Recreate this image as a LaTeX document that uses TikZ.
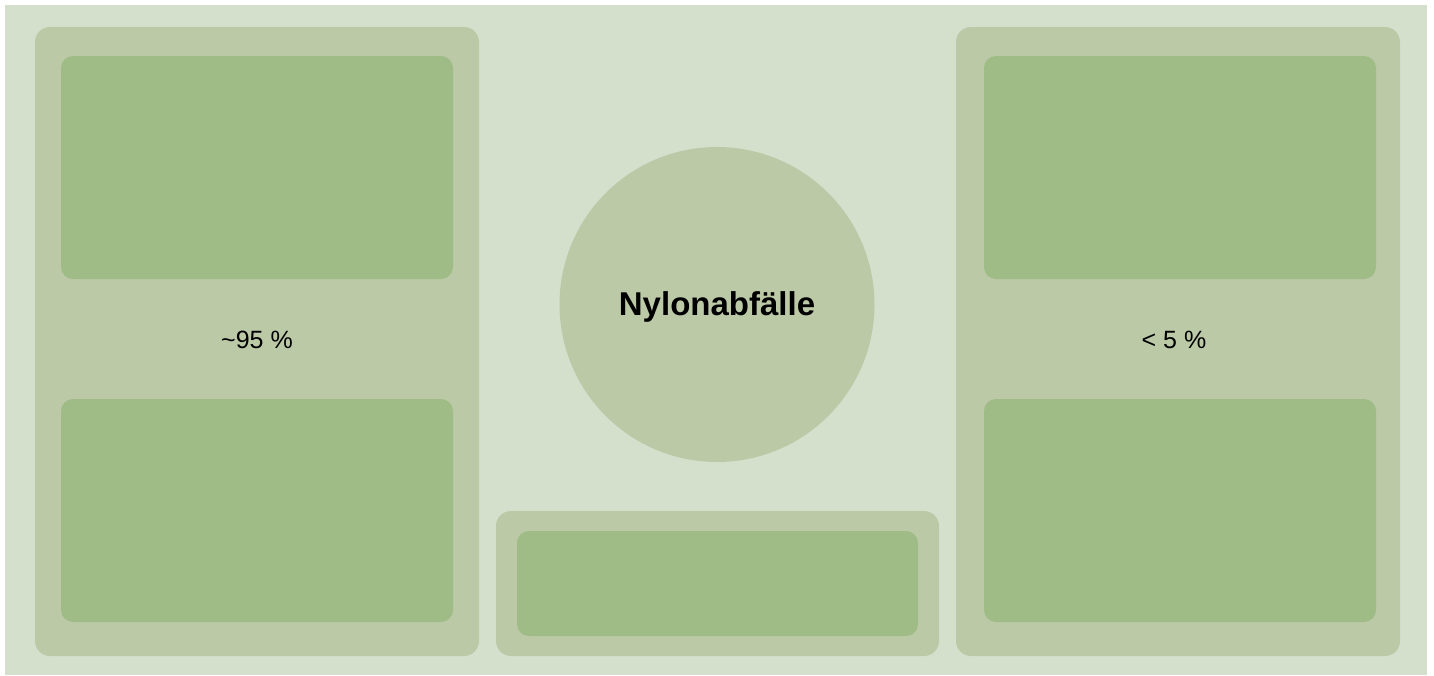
\documentclass[tikz,border=0pt]{standalone}
\usepackage{fontspec}
\setmainfont{Liberation Sans}
\usetikzlibrary{positioning}
\definecolor{bgGreen}{HTML}{D5E0CC}
\definecolor{midGreen}{HTML}{BBC9A7}
\definecolor{darkGreen}{HTML}{9FBB86}

\begin{document}
\begin{tikzpicture}[x=1pt, y=-1pt,
    panel/.style={fill=midGreen, rounded corners=15pt, inner sep=0pt},
    inbox/.style={fill=darkGreen, rounded corners=12pt, inner sep=0pt,
        minimum width=392pt, minimum height=223pt},
    pct/.style={font=\fontsize{25}{30}\selectfont}]
            \useasboundingbox (0,0) rectangle (1434,675);
            \fill[bgGreen] (5,5) rectangle (1427,675);

            \node[panel, minimum width=444pt, minimum height=629pt] (left) at (257,341.5) {};
            \node[panel, minimum width=444pt, minimum height=629pt] (right) at (1178,341.5) {};
            \node[panel, minimum width=443pt, minimum height=145pt] (bottom) at (717.5,583.5) {};

            \foreach \x/\s in {257/l, 1180/r}
                {\node[inbox] (\s top) at (\x,167.5) {};
                 \node[inbox] (\s bot) at (\x,510.5) {};}

            \node[fill=darkGreen, rounded corners=12pt, inner sep=0pt,
                minimum width=401pt, minimum height=105pt] (bottomin) at (bottom) {};

            \node[circle, fill=midGreen, minimum size=315pt, inner sep=0pt] (waste) at (717,304.5) {};
            \node[font=\fontsize{33}{40}\selectfont\bfseries] (title) at (717,307) {Nylonabfälle};

            \node[pct] (pctL) at (257,340) {\textasciitilde95 \%};
            \node[pct] (pctR) at (1174,340) {< 5 \%};
        \end{tikzpicture}
\end{document}
